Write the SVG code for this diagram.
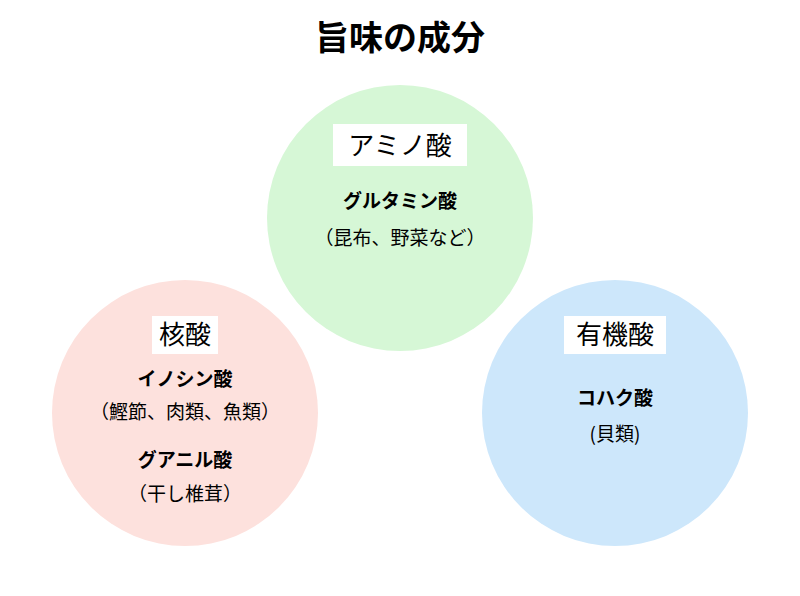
<svg xmlns="http://www.w3.org/2000/svg" width="800" height="596" viewBox="0 0 800 596">
<style>
text{font-family:"Noto Sans CJK JP","Noto Sans",sans-serif;fill:#000;text-anchor:middle}
.t{font-size:26px}
.b{font-size:19px;font-weight:bold}
.n{font-size:19px}
.bg{fill:#fff}
</style>
<rect width="800" height="596" fill="#fff"/>
<text x="400" y="50" style="font-size:34px;font-weight:bold">旨味の成分</text>
<g id="amino">
<circle cx="400" cy="218" r="133" fill="#d6f7d6"/>
<rect class="bg" x="333" y="124" width="134" height="42"/>
<text class="t" x="400" y="155">アミノ酸</text>
<text class="b" x="400" y="208">グルタミン酸</text>
<text class="n" x="400" y="245">（昆布、野菜など）</text>
</g>
<g id="kakusan">
<circle cx="185" cy="413" r="133" fill="#fde1dd"/>
<rect class="bg" x="152" y="316" width="66" height="38"/>
<text class="t" x="185" y="344">核酸</text>
<text class="b" x="185" y="386">イノシン酸</text>
<text class="n" x="185" y="419">（鰹節、肉類、魚類）</text>
<text class="b" x="185" y="467">グアニル酸</text>
<text class="n" x="185" y="501">（干し椎茸）</text>
</g>
<g id="yuuki">
<circle cx="615" cy="413" r="133" fill="#cde7fb"/>
<rect class="bg" x="564" y="316" width="102" height="38"/>
<text class="t" x="615" y="344">有機酸</text>
<text class="b" x="615" y="405">コハク酸</text>
<text class="n" x="615" y="441">(貝類)</text>
</g>
<g id="connectors"/>
</svg>
